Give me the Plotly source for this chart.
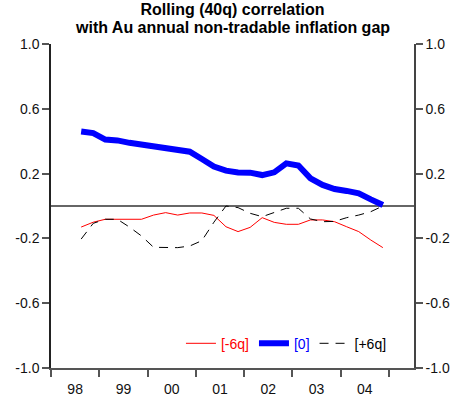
import plotly.graph_objects as go

# quarterly observations, 1998Q3 - 2004Q4
quarters = [
    "1998Q3", "1998Q4",
    "1999Q1", "1999Q2", "1999Q3", "1999Q4",
    "2000Q1", "2000Q2", "2000Q3", "2000Q4",
    "2001Q1", "2001Q2", "2001Q3", "2001Q4",
    "2002Q1", "2002Q2", "2002Q3", "2002Q4",
    "2003Q1", "2003Q2", "2003Q3", "2003Q4",
    "2004Q1", "2004Q2", "2004Q3", "2004Q4",
]

lag_minus6 = [
    -0.13, -0.10,
    -0.082, -0.082, -0.082, -0.082,
    -0.056, -0.041, -0.056, -0.043,
    -0.043, -0.058, -0.128, -0.158,
    -0.132, -0.072, -0.101, -0.113,
    -0.113, -0.086, -0.086, -0.097,
    -0.128, -0.158, -0.21, -0.257,
]

lag_zero = [
    0.46, 0.45,
    0.41, 0.405, 0.39, 0.378,
    0.366, 0.362, 0.35, 0.335,
    0.29, 0.243, 0.218, 0.207,
    0.206, 0.191, 0.208, 0.263,
    0.25, 0.171, 0.13, 0.105,
    0.093, 0.078, 0.041, 0.006,
]

lag_plus6 = [
    -0.204, -0.107,
    -0.082, -0.082, -0.13, -0.185,
    -0.255, -0.257, -0.257, -0.247,
    -0.214, -0.10, 0.0, -0.01,
    -0.045, -0.066, -0.041, -0.014,
    -0.014, -0.08, -0.097, -0.095,
    -0.072, -0.056, -0.035, 0.0,
]

year_labels = ["98", "99", "00", "01", "02", "03", "04"]
year_starts = [1998, 1999, 2000, 2001, 2002, 2003, 2004, 2005]

y_ticks = [-1.0, -0.6, -0.2, 0.2, 0.6, 1.0]
y_labels = ["-1.0", "-0.6", "-0.2", "0.2", "0.6", "1.0"]


def to_year(q):
    # middle of the quarter as a decimal year
    return int(q[:4]) + (int(q[-1]) - 0.5) / 4


x = [to_year(q) for q in quarters]
font = "Liberation Sans, Arial, sans-serif"

fig = go.Figure()
fig.add_scatter(x=x, y=lag_minus6, mode="lines",
                line=dict(color="#ff0000", width=1),
                name="<span style='color:#ff0000'>[-6q]</span>")
fig.add_scatter(x=x, y=lag_zero, mode="lines",
                line=dict(color="#0000ff", width=6),
                name="<span style='color:#0000ff'>[0]</span>")
fig.add_scatter(x=x, y=lag_plus6, mode="lines",
                line=dict(color="#000000", width=1, dash="9px,7px"),
                name="<span style='color:#000000'>[+6q]</span>")
# dummy trace so the right-hand axis gets drawn
fig.add_scatter(x=[None], y=[None], yaxis="y2", showlegend=False, hoverinfo="skip")

yax = dict(range=[-1, 1], showgrid=False, automargin=False,
           showline=True, linewidth=1.5,
           tickmode="array", tickvals=y_ticks, ticktext=y_labels,
           ticks="outside", ticklen=7, tickwidth=1.5, tickcolor="#555")

fig.update_layout(
    width=456, height=401,
    margin=dict(l=51, r=42, t=44, b=33),
    paper_bgcolor="white", plot_bgcolor="white",
    font=dict(family=font, size=14, color="#111"),
    title=dict(text="<b>Rolling (40q) correlation</b>",
               x=0.5, xanchor="center", xref="paper",
               y=0.99, yanchor="top", yref="container",
               font=dict(size=16, color="black")),
    showlegend=True,
    legend=dict(orientation="h", x=0.358, y=0.075, xanchor="left", yanchor="middle",
                bgcolor="rgba(0,0,0,0)", font=dict(size=14), itemwidth=30),
    xaxis=dict(range=[1998, 2005.52], showgrid=False, zeroline=False, automargin=False,
               showline=True, linecolor="#555", linewidth=1.5,
               tickmode="array", tickvals=[y + 0.5 for y in year_starts[:-1]],
               ticktext=year_labels, ticks="outside", ticklen=7,
               tickcolor="rgba(0,0,0,0)",
               minor=dict(tickmode="array", tickvals=year_starts, ticks="outside",
                          ticklen=7, tickwidth=1.5, tickcolor="#555")),
    yaxis=dict(yax, zeroline=True, zerolinecolor="#666", zerolinewidth=1.5,
               linecolor="#222"),
    yaxis2=dict(yax, overlaying="y", side="right", zeroline=False, linecolor="#444"),
    annotations=[dict(text="<b>with Au annual non-tradable inflation gap</b>",
                      xref="paper", yref="paper", x=0.5, y=1.0, yshift=6,
                      xanchor="center", yanchor="bottom", showarrow=False,
                      font=dict(size=16, color="black"))],
)

# drop the browser's default page margin so the figure sits at the top-left corner
fig.write_html("out.html", config={"displayModeBar": False},
               post_script="document.body.style.margin = '0px';")
